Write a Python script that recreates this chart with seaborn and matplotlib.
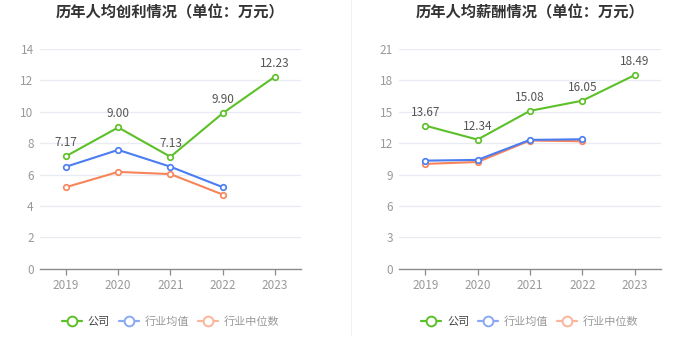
import numpy as np
import pandas as pd
from matplotlib import pyplot as plt
from matplotlib.lines import Line2D
import seaborn as sns

years = ["2019", "2020", "2021", "2022", "2023"]
series_names = ["公司", "行业均值", "行业中位数"]

profit_company = [7.17, 9.00, 7.13, 9.90, 12.23]
profit_mean = [6.50, 7.57, 6.50, 5.20, np.nan]
profit_median = [5.20, 6.17, 6.03, 4.73, np.nan]

salary_company = [13.67, 12.34, 15.08, 16.05, 18.49]
salary_mean = [10.33, 10.40, 12.31, 12.37, np.nan]
salary_median = [10.02, 10.20, 12.25, 12.18, np.nan]

titles = ["历年人均创利情况（单位：万元）", "历年人均薪酬情况（单位：万元）"]
yticks = [[0, 2, 4, 6, 8, 10, 12, 14], [0, 3, 6, 9, 12, 15, 18, 21]]

colors = ["#5cc028", "#4a7cf2", "#f8845a"]
legend_colors = ["#5cc028", "#8aa9f5", "#fbb59b"]

sns.set_theme(style="white")
plt.rcParams["font.family"] = ["Noto Sans CJK SC", "DejaVu Sans"]


def make_df(company, mean, median):
    frames = []
    for name, vals in zip(series_names, [company, mean, median]):
        frames.append(pd.DataFrame({"year": range(len(years)), "value": vals, "series": name}))
    return pd.concat(frames).dropna()


dfs = [
    make_df(profit_company, profit_mean, profit_median),
    make_df(salary_company, salary_mean, salary_median),
]

fig = plt.figure(figsize=(7, 3.59), dpi=100)
axes = [
    fig.add_axes([0.057, 0.251, 0.373, 0.613]),
    fig.add_axes([0.570, 0.251, 0.374, 0.613]),
]

for ax, df, title, ticks, company in zip(
    axes, dfs, titles, yticks, [profit_company, salary_company]
):
    # draw median first so company line is on top
    for name, color, z in zip(series_names[::-1], colors[::-1], [2, 3, 4]):
        sub = df[df["series"] == name]
        sns.lineplot(
            data=sub, x="year", y="value", ax=ax, color=color, linewidth=1.5,
            marker="o", markersize=4, markerfacecolor="white",
            markeredgecolor=color, markeredgewidth=1.2, zorder=z, legend=False,
        )
    for i, v in enumerate(company):
        ax.annotate(f"{v:.2f}", (i, v), xytext=(0, 5), textcoords="offset points",
                    ha="center", va="bottom", fontsize=8.5, color="#555555")

    ax.set_xlim(-0.5, len(years) - 0.5)
    ax.set_ylim(0, ticks[-1])
    ax.set_yticks(ticks)
    ax.set_xticks(range(len(years)))
    ax.set_xticklabels(years)
    ax.set_xlabel("")
    ax.set_ylabel("")
    ax.yaxis.grid(True, color="#e8ebf3", linewidth=0.9)
    ax.set_axisbelow(True)
    for s in ["top", "right", "left"]:
        ax.spines[s].set_visible(False)
    ax.spines["bottom"].set_color("#8c8c8c")
    ax.spines["bottom"].set_linewidth(1.0)
    ax.tick_params(axis="x", colors="#999999", labelsize=8.5, length=4,
                   width=0.9, direction="out", pad=3, bottom=True)
    ax.tick_params(axis="x", color="#8c8c8c")
    ax.tick_params(axis="y", colors="#999999", labelsize=8.5, length=0, pad=4.5)

    bb = ax.get_position()
    cx = bb.x0 + bb.width / 2
    fig.text(cx, 1 - 12 / 359, title, ha="center", va="center",
             fontsize=11, fontweight="bold", color="#333333")

    handles = [
        Line2D([0], [0], color=c, linewidth=1.6, marker="o", markersize=7,
               markerfacecolor="white", markeredgecolor=c, markeredgewidth=1.4)
        for c in legend_colors
    ]
    leg = fig.legend(handles, series_names, loc="center",
                     bbox_to_anchor=(cx, 1 - 322 / 359), ncol=3, frameon=False,
                     fontsize=8, handlelength=1.8, handletextpad=0.5,
                     columnspacing=0.8)
    for t, c in zip(leg.get_texts(), ["#444444", "#999999", "#999999"]):
        t.set_color(c)

fig.add_artist(Line2D([0.501, 0.501], [1 - 335 / 359, 1.0], color="#f0f0f0",
                      linewidth=0.8, transform=fig.transFigure))

fig.savefig("out.png", dpi=100)
